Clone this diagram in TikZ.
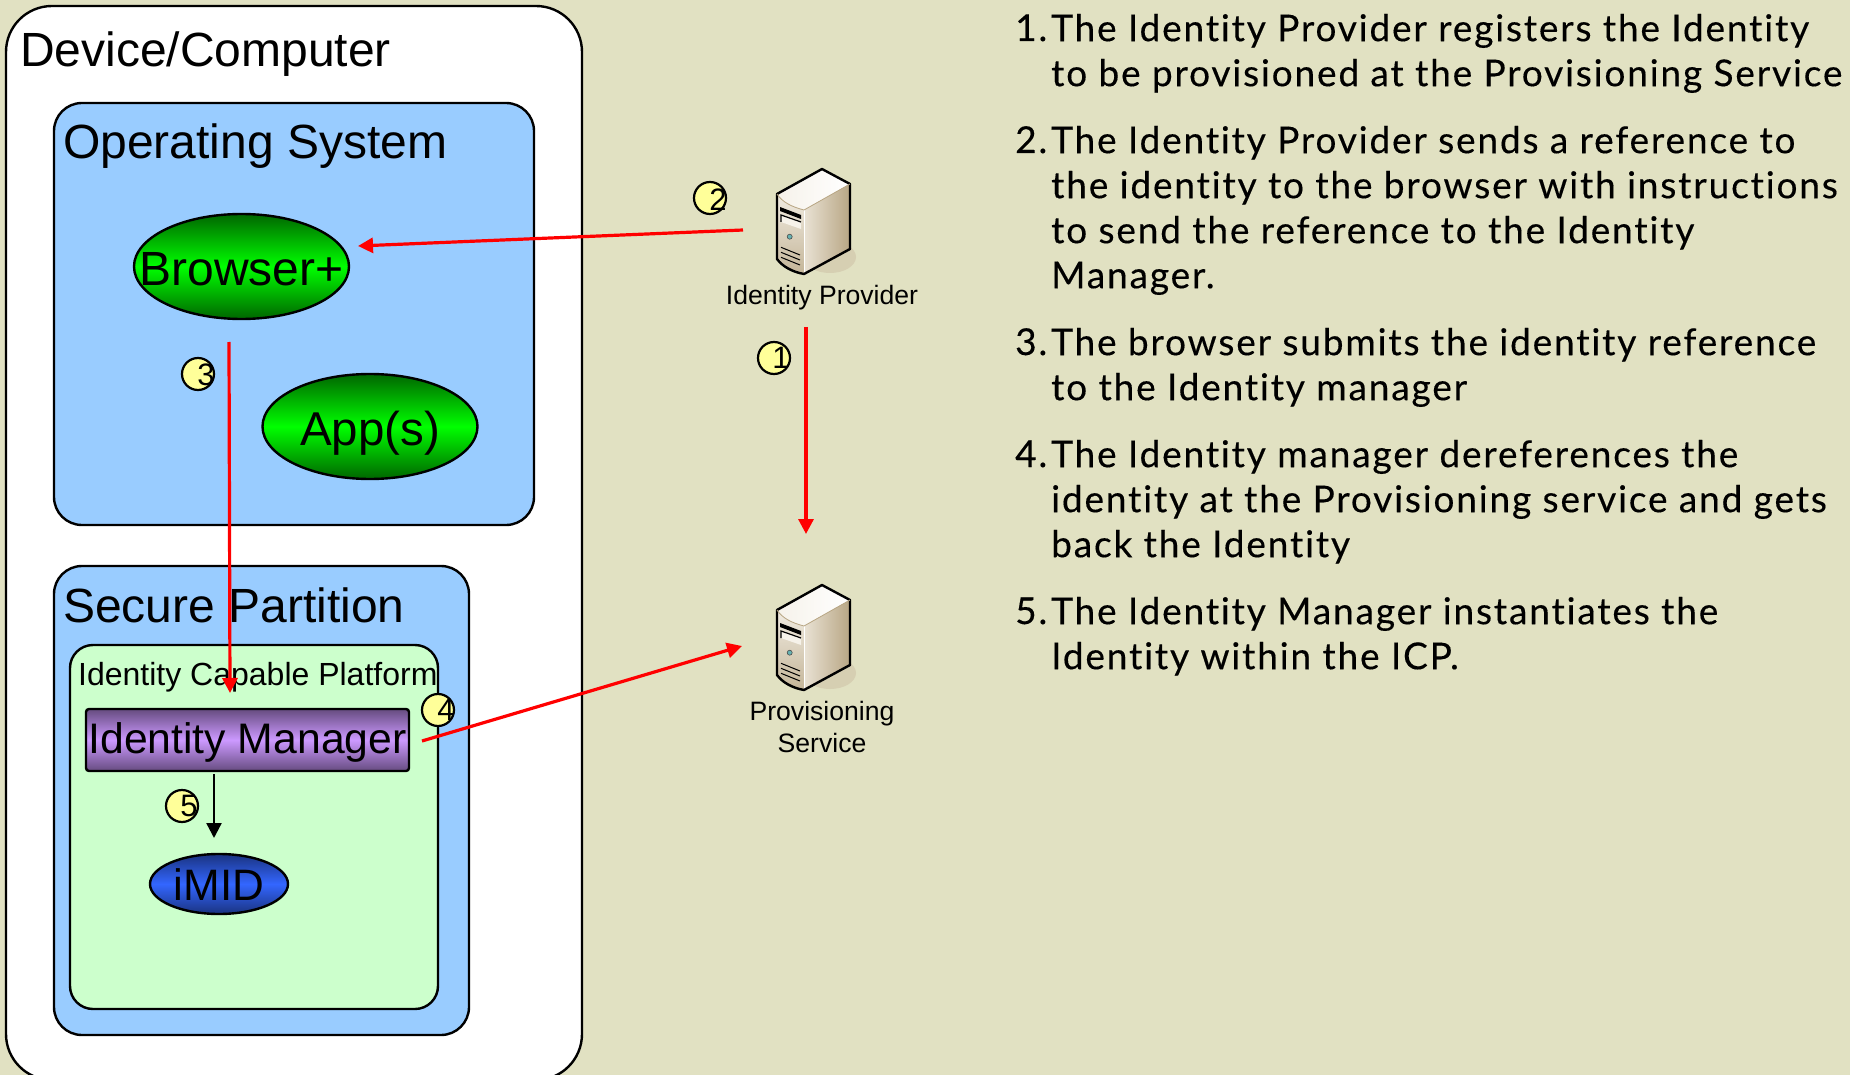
\documentclass[tikz,border=0pt]{standalone}
\usepackage{fontspec}
\setmainfont{Liberation Sans}
\newfontfamily\stepfont[Ligatures=NoCommon,LetterSpace=5,FakeBold=0.3]{Lato}
\usetikzlibrary{shapes.geometric,arrows.meta}
\definecolor{bgc}{HTML}{E1E1C2}
\definecolor{paneblue}{HTML}{99CCFF}
\definecolor{panegreen}{HTML}{CCFFCC}
\definecolor{badge}{HTML}{FFFF99}
\definecolor{greenmid}{HTML}{00FF00}
\definecolor{greenedge}{HTML}{006600}
\definecolor{purplemid}{HTML}{CC99FF}
\definecolor{purpleedge}{HTML}{664C80}
\definecolor{bluemid}{HTML}{3366FF}
\definecolor{blueedge}{HTML}{1A3380}
\definecolor{srvtop}{HTML}{F6F2EA}
\definecolor{srvfronthi}{HTML}{F1ECE2}
\definecolor{srvfrontlo}{HTML}{C4B598}
\definecolor{srvsidehi}{HTML}{E9E2D4}
\definecolor{srvsidelo}{HTML}{B8A684}
\definecolor{srvshadow}{HTML}{D6CFB2}
\newcommand{\fsz}[1]{\fontsize{#1}{#1}\selectfont}
\newcommand{\firstline}{\rule{0pt}{30pt}}
\tikzset{
  x=1pt,y=-1pt,
  panel/.style={draw=black,line width=2.4pt,rounded corners=#1,inner sep=0pt},
  caption/.style={inner sep=0pt,anchor=base west,text=black},
  centered/.style={inner sep=0pt,anchor=base,text=black},
  oval/.style={ellipse,draw=black,line width=2.4pt,inner sep=0pt,text=black},
  greenoval/.style={oval,top color=greenedge,bottom color=greenedge,middle color=greenmid,minimum width=215pt,minimum height=105pt,inner xsep=-40pt,text height=38pt,text depth=0pt},
  badgedisc/.style={circle,draw=black,line width=2.2pt,fill=badge,minimum size=32pt,inner sep=0pt},
  digit/.style={inner sep=0pt,text=black,font=\fsz{31}},
  redflow/.style={draw={rgb,255:red,255;green,0;blue,0},line width=3.2pt,-{Triangle[length=15pt,width=15pt]}},
  blackflow/.style={draw=black,line width=2.4pt,-{Triangle[length=15pt,width=15pt]}},
  steptext/.style={inner sep=0pt,anchor=north west,align=left,font=\stepfont\fontsize{37}{45}\selectfont,text=black},
  stepnum/.style={inner sep=0pt,anchor=base west,font=\stepfont\fontsize{37}{45}\selectfont,text=black},
  server/.pic={
    \fill[srvshadow] (8,88) ellipse [x radius=26,y radius=16];
    \shade[left color=srvtop,right color=white] (0,0) -- (28,15) -- (-18,41) .. controls (-30,38) and (-40,33) .. (-45,25) -- cycle;
    \shade[left color=srvsidehi,right color=srvsidelo] (28,15) -- (28,80) -- (-18,105) -- (-18,41) -- cycle;
    \shade[top color=srvfronthi,bottom color=srvfrontlo] (-45,25) .. controls (-40,33) and (-30,38) .. (-18,41) -- (-18,105) .. controls (-30,103) and (-40,97) .. (-45,90) -- cycle;
    \draw[white,line width=1pt] (-18,41) -- (-18,105);
    \draw[black,line width=2.4pt,line join=round] (0,0) -- (28,15) -- (28,80) -- (-18,105) .. controls (-30,103) and (-40,97) .. (-45,90) -- (-45,25) -- cycle;
    \draw[srvsidelo,line width=.8pt] (-45,25) .. controls (-40,33) and (-30,38) .. (-18,41) -- (28,15);
    \fill[black] (-42,38) -- (-21,46) -- (-21,50) -- (-42,42) -- cycle;
    \fill[srvtop] (-41,46) -- (-21,53) -- (-21,60) -- (-41,53) -- cycle;
    \draw[black,line width=1.2pt] (-41,53) -- (-41,46) -- (-21,53);
    \filldraw[fill=teal!60!white,draw=black!70,line width=.6pt] (-32.3,67.7) circle [radius=2.5];
    \draw[black,line width=1pt] (-41,78.3) -- (-22,86) (-41,83.3) -- (-22,91) (-41,88.3) -- (-22,96);
  },
}
\begin{document}
\begin{tikzpicture}
\clip (0,0) rectangle (1850,1075);
\fill[bgc] (0,0) rectangle (1850,1075);

% containers
\node[panel=46pt,fill=white,minimum width=576pt,minimum height=1074pt] (device) at (294,543) {};
\node[panel=28pt,fill=paneblue,minimum width=480pt,minimum height=422pt] (os) at (294,314) {};
\node[panel=28pt,fill=paneblue,minimum width=415pt,minimum height=469pt] (secure) at (261.5,800.5) {};
\node[panel=23pt,fill=panegreen,minimum width=368pt,minimum height=364pt] (icp) at (254,827) {};

\node[caption,font=\fsz{48}] (devicelabel) at (20,67) {Device/Computer};
\node[caption,font=\fsz{48}] (oslabel) at (63,159) {Operating System};
\node[caption,font=\fsz{48}] (securelabel) at (63,622) {Secure Partition};
\node[caption,font=\fsz{32}] (icplabel) at (78,685) {Identity Capable Platform};

% components
\node[greenoval,font=\fsz{48}] (browser) at (241.5,266.5) {Browser+};
\node[greenoval,font=\fsz{47.5}] (apps) at (370,426.5) {App(s)};
\node[draw=black,line width=2.4pt,rounded corners=3pt,inner sep=0pt,
      minimum width=323pt,minimum height=62pt,text=black,font=\fsz{42.7},text height=30pt,text depth=4pt,
      top color=purpleedge,bottom color=purpleedge,middle color=purplemid] (idm) at (247.5,740) {Identity Manager};
\node[oval,minimum width=138pt,minimum height=60pt,inner xsep=-14pt,font=\fsz{44},text height=32pt,text depth=0pt,
      top color=blueedge,bottom color=blueedge,middle color=bluemid] (imid) at (219,884) {iMID};

% servers
\pic (idp) at (822,169) {server};
\pic (prov) at (822,585) {server};
\node[centered,font=\fsz{26.6}] (idplabel) at (822,305) {Identity Provider};
\node[centered,font=\fsz{26.6}] (provlabel1) at (822,720) {Provisioning};
\node[centered,font=\fsz{26.6}] (provlabel2) at (822,752) {Service};

% connector ends
\coordinate (idpdown) at (806,327);
\coordinate (provup) at (806,534);
\coordinate (idpleft) at (743,230);
\coordinate (browserright) at (358,246);
\coordinate (browserdown) at (229,342);
\coordinate (idmup) at (230,693);
\coordinate (idmright) at (422,741);
\coordinate (provleft) at (742,646);
\coordinate (idmdown) at (214,774);
\coordinate (imidup) at (214,838);

% badges
\node[badgedisc] (b1) at (774,358) {};
\node[badgedisc] (b2) at (710,198) {};
\node[badgedisc] (b3) at (198,374) {};
\node[badgedisc] (b4) at (438,710) {};
\node[badgedisc] (b5) at (182,806) {};
\node[digit] (d1) at (781,358) {1};
\node[digit] (d2) at (718,200) {2};
\node[digit] (d3) at (206,375) {3};
\node[digit] (d4) at (446,710) {4};
\node[digit] (d5) at (189,806) {5};

% connectors
\draw[redflow] (idpdown) -- (provup);
\draw[redflow] (idpleft) -- (browserright);
\draw[redflow] (browserdown) -- (idmup);
\draw[redflow] (idmright) -- (provleft);
\draw[blackflow] (idmdown) -- (imidup);

% steps
\node[stepnum] (n1) at (1015,41) {1.};
\node[steptext] (s1) at (1051,11) {\firstline The Identity Provider registers the Identity\\to be provisioned at the Provisioning Service};
\node[stepnum] (n2) at (1015,153) {2.};
\node[steptext] (s2) at (1051,123) {\firstline The Identity Provider sends a reference to\\the identity to the browser with instructions\\to send the reference to the Identity\\Manager.};
\node[stepnum] (n3) at (1015,355) {3.};
\node[steptext] (s3) at (1051,325) {\firstline The browser submits the identity reference\\to the Identity manager};
\node[stepnum] (n4) at (1015,467) {4.};
\node[steptext] (s4) at (1051,437) {\firstline The Identity manager dereferences the\\identity at the Provisioning service and gets\\back the Identity};
\node[stepnum] (n5) at (1015,624) {5.};
\node[steptext] (s5) at (1051,594) {\firstline The Identity Manager instantiates the\\Identity within the ICP.};
\end{tikzpicture}
\end{document}
